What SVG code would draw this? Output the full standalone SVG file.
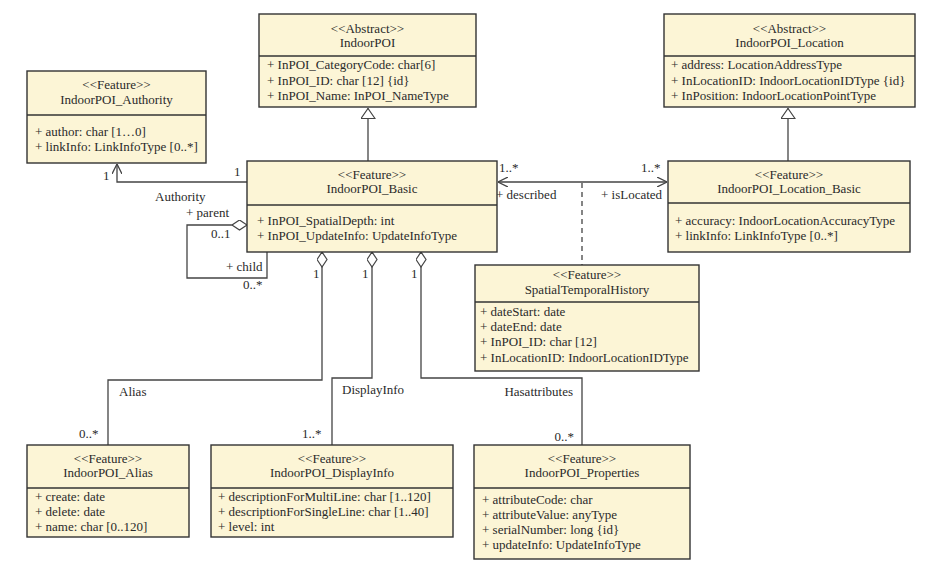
<svg xmlns="http://www.w3.org/2000/svg" width="935" height="579" viewBox="0 0 935 579">
<style>
.box{fill:#fcf5d6;stroke:#333;stroke-width:1.4}
.div{stroke:#333;stroke-width:1.4}
text{font-family:"Liberation Serif","Times New Roman",serif;font-size:13px;fill:#2a2a2a}
.c{text-anchor:middle}
.e{text-anchor:end}
.ln{fill:none;stroke:#444;stroke-width:1.3}
.dash{stroke-dasharray:5,4}
</style>
<defs>
<marker id="open" viewBox="0 0 10 10" refX="10" refY="5" markerWidth="10" markerHeight="10" markerUnits="userSpaceOnUse" orient="auto-start-reverse">
<path d="M0,0 L10,5 L0,10" fill="none" stroke="#444" stroke-width="1.3"/>
</marker>
<marker id="tri" viewBox="0 0 11 15" refX="11" refY="7.5" markerWidth="11" markerHeight="15" markerUnits="userSpaceOnUse" orient="auto">
<path d="M0.5,0.5 L10.5,7.5 L0.5,14.5 Z" fill="#fff" stroke="#444" stroke-width="1.2"/>
</marker>
<marker id="dia" viewBox="0 0 16 11" refX="0.5" refY="5.5" markerWidth="16" markerHeight="11" markerUnits="userSpaceOnUse" orient="auto">
<path d="M0.5,5.5 L8,0.5 L15.5,5.5 L8,10.5 Z" fill="#fff" stroke="#444" stroke-width="1.2"/>
</marker>
</defs>

<g id="connectors">
<path class="ln" d="M247,182 H117 V164" marker-end="url(#open)"/>
<path class="ln" d="M368,161 V108" marker-end="url(#tri)"/>
<path class="ln" d="M788,161 V108" marker-end="url(#tri)"/>
<path class="ln" d="M247,225 H187 V278 H267 V252" marker-start="url(#dia)"/>
<path class="ln" d="M498,182 H667" marker-start="url(#open)" marker-end="url(#open)"/>
<path class="ln dash" d="M582,183 V265"/>
<path class="ln" d="M322,252 V380 H108 V445" marker-start="url(#dia)"/>
<path class="ln" d="M372,252 V378 H332 V445" marker-start="url(#dia)"/>
<path class="ln" d="M421,252 V378 H582 V445" marker-start="url(#dia)"/>
<text x="103" y="180">1</text>
<text x="234" y="176">1</text>
<text x="155" y="201">Authority</text>
<text x="186" y="217">+ parent</text>
<text x="211" y="238">0..1</text>
<text x="226" y="271">+ child</text>
<text x="243" y="289">0..*</text>
<text x="313" y="278">1</text>
<text x="362" y="278">1</text>
<text x="411" y="278">1</text>
<text x="119" y="396">Alias</text>
<text x="342" y="394">DisplayInfo</text>
<text class="e" x="573" y="396">Hasattributes</text>
<text x="79" y="438">0..*</text>
<text x="302" y="438">1..*</text>
<text class="e" x="574" y="441">0..*</text>
<text x="499" y="172">1..*</text>
<text x="641" y="172">1..*</text>
<text x="496" y="199">+ described</text>
<text x="601" y="199">+ isLocated</text>
</g>

<g id="IndoorPOI_Authority">
<rect class="box" x="27" y="71" width="179" height="92"/>
<line class="div" x1="27" y1="115" x2="206" y2="115"/>
<text class="c" x="116.5" y="89">&lt;&lt;Feature&gt;&gt;</text>
<text class="c" x="116.5" y="104">IndoorPOI_Authority</text>
<text x="35" y="136">+ author: char [1…0]</text>
<text x="35" y="151">+ linkInfo: LinkInfoType [0..*]</text>
</g>

<g id="IndoorPOI">
<rect class="box" x="259" y="14" width="217" height="93"/>
<line class="div" x1="259" y1="56" x2="476" y2="56"/>
<text class="c" x="367.5" y="33">&lt;&lt;Abstract&gt;&gt;</text>
<text class="c" x="367.5" y="47">IndoorPOI</text>
<text x="267" y="69">+ InPOI_CategoryCode: char[6]</text>
<text x="267" y="85">+ InPOI_ID: char [12] {id}</text>
<text x="267" y="100">+ InPOI_Name: InPOI_NameType</text>
</g>

<g id="IndoorPOI_Location">
<rect class="box" x="664" y="14" width="251" height="93"/>
<line class="div" x1="664" y1="56" x2="915" y2="56"/>
<text class="c" x="789.5" y="33">&lt;&lt;Abstract&gt;&gt;</text>
<text class="c" x="789.5" y="47">IndoorPOI_Location</text>
<text x="671" y="69">+ address: LocationAddressType</text>
<text x="671" y="85">+ InLocationID: IndoorLocationIDType {id}</text>
<text x="671" y="100">+ InPosition: IndoorLocationPointType</text>
</g>

<g id="IndoorPOI_Basic">
<rect class="box" x="247" y="161" width="250" height="91"/>
<line class="div" x1="247" y1="205" x2="497" y2="205"/>
<text class="c" x="372" y="179">&lt;&lt;Feature&gt;&gt;</text>
<text class="c" x="372" y="193">IndoorPOI_Basic</text>
<text x="257" y="225">+ InPOI_SpatialDepth: int</text>
<text x="257" y="240">+ InPOI_UpdateInfo: UpdateInfoType</text>
</g>

<g id="IndoorPOI_Location_Basic">
<rect class="box" x="668" y="161" width="242" height="91"/>
<line class="div" x1="668" y1="203" x2="910" y2="203"/>
<text class="c" x="789" y="179">&lt;&lt;Feature&gt;&gt;</text>
<text class="c" x="789" y="193">IndoorPOI_Location_Basic</text>
<text x="675" y="225">+ accuracy: IndoorLocationAccuracyType</text>
<text x="675" y="240">+ linkInfo: LinkInfoType [0..*]</text>
</g>

<g id="SpatialTemporalHistory">
<rect class="box" x="475" y="265" width="224" height="106"/>
<line class="div" x1="475" y1="302" x2="699" y2="302"/>
<text class="c" x="587" y="279">&lt;&lt;Feature&gt;&gt;</text>
<text class="c" x="587" y="294">SpatialTemporalHistory</text>
<text x="480" y="316">+ dateStart: date</text>
<text x="480" y="331">+ dateEnd: date</text>
<text x="480" y="346">+ InPOI_ID: char [12]</text>
<text x="480" y="362">+ InLocationID: IndoorLocationIDType</text>
</g>

<g id="IndoorPOI_Alias">
<rect class="box" x="27" y="445" width="162" height="92"/>
<line class="div" x1="27" y1="488" x2="189" y2="488"/>
<text class="c" x="108" y="463">&lt;&lt;Feature&gt;&gt;</text>
<text class="c" x="108" y="477">IndoorPOI_Alias</text>
<text x="35" y="501">+ create: date</text>
<text x="35" y="516">+ delete: date</text>
<text x="35" y="531">+ name: char [0..120]</text>
</g>

<g id="IndoorPOI_DisplayInfo">
<rect class="box" x="211" y="445" width="242" height="92"/>
<line class="div" x1="211" y1="488" x2="453" y2="488"/>
<text class="c" x="332" y="463">&lt;&lt;Feature&gt;&gt;</text>
<text class="c" x="332" y="477">IndoorPOI_DisplayInfo</text>
<text x="218" y="501">+ descriptionForMultiLine: char [1..120]</text>
<text x="218" y="516">+ descriptionForSingleLine: char [1..40]</text>
<text x="218" y="531">+ level: int</text>
</g>

<g id="IndoorPOI_Properties">
<rect class="box" x="474" y="445" width="216" height="114"/>
<line class="div" x1="474" y1="488" x2="690" y2="488"/>
<text class="c" x="582" y="463">&lt;&lt;Feature&gt;&gt;</text>
<text class="c" x="582" y="477">IndoorPOI_Properties</text>
<text x="482" y="504">+ attributeCode: char</text>
<text x="482" y="519">+ attributeValue: anyType</text>
<text x="482" y="534">+ serialNumber: long {id}</text>
<text x="482" y="549">+ updateInfo: UpdateInfoType</text>
</g>
</svg>
